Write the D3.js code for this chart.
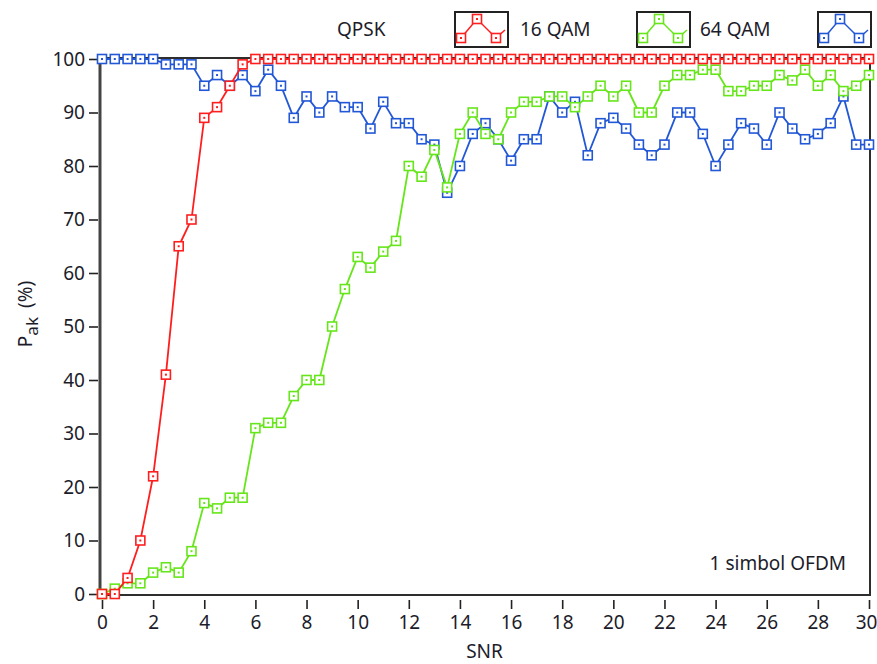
<!DOCTYPE html>
<html>
<head>
<meta charset="utf-8">
<script src="https://cdn.jsdelivr.net/npm/d3@7/dist/d3.min.js"></script>
<style>
  html, body { margin: 0; padding: 0; background: #fff; }
  svg { display: block; }
  text { font-family: "Noto Sans", "Open Sans", sans-serif; fill: #1c1c2a; }
</style>
</head>
<body>
<svg id="chart" width="877" height="664"></svg>
<script>
// SNR sweep, 0 to 30 in steps of 0.5
const snr = d3.range(0, 30.001, 0.5);

// Detection probability (%) per modulation
const qpsk = [0, 0, 3, 10, 22, 41, 65, 70, 89, 91, 95, 99,
  100, 100, 100, 100, 100, 100, 100, 100, 100, 100, 100, 100, 100, 100,
  100, 100, 100, 100, 100, 100, 100, 100, 100, 100, 100, 100, 100, 100,
  100, 100, 100, 100, 100, 100, 100, 100, 100, 100, 100, 100, 100, 100,
  100, 100, 100, 100, 100, 100, 100];

const qam16 = [0, 1, 2, 2, 4, 5, 4, 8, 17, 16, 18, 18,
  31, 32, 32, 37, 40, 40, 50, 57, 63, 61, 64, 66,
  80, 78, 83, 76, 86, 90, 86, 85, 90, 92, 92, 93,
  93, 91, 93, 95, 93, 95, 90, 90, 95, 97, 97, 98,
  98, 94, 94, 95, 95, 97, 96, 98, 95, 97, 94, 95, 97];

const qam64 = [100, 100, 100, 100, 100, 99, 99, 99, 95, 97, 95, 97,
  94, 98, 95, 89, 93, 90, 93, 91, 91, 87, 92, 88,
  88, 85, 84, 75, 80, 86, 88, 85, 81, 85, 85, 93,
  90, 92, 82, 88, 89, 87, 84, 82, 84, 90, 90, 86,
  80, 84, 88, 87, 84, 90, 87, 85, 86, 88, 93, 84, 84];

const seriesNames = ["QPSK", "16 QAM", "64 QAM"];
const seriesColors = ["#ff1e1e", "#66e61a", "#2257d6"];
const seriesValues = [qpsk, qam16, qam64];

const xTicks = d3.range(0, 31, 2);
const yTicks = d3.range(0, 101, 10);

const svg = d3.select("#chart");
const plotL = 102, plotR = 869, plotT = 59, plotB = 594;

const x = d3.scaleLinear().domain([0, 30]).range([plotL, plotR]);
const y = d3.scaleLinear().domain([0, 100]).range([plotB, plotT]);

// Plot frame
svg.append("rect")
  .attr("x", plotL - 2).attr("y", plotT - 1)
  .attr("width", plotR - plotL + 3).attr("height", plotB - plotT + 2)
  .attr("fill", "#fff").attr("stroke", "#2e2e2e").attr("stroke-width", 2);
svg.append("line")
  .attr("x1", plotL - 2).attr("x2", plotL - 2)
  .attr("y1", plotT - 2).attr("y2", plotB + 2)
  .attr("stroke", "#444").attr("stroke-width", 3);

// Axes
const yAxis = svg.append("g")
  .attr("transform", `translate(${plotL - 4},0)`)
  .call(d3.axisLeft(y).tickValues(yTicks).tickSize(9).tickPadding(4));
const xAxis = svg.append("g")
  .attr("transform", `translate(0,${plotB + 6})`)
  .call(d3.axisBottom(x).tickValues(xTicks).tickSize(9).tickPadding(7));

[yAxis, xAxis].forEach(g => {
  g.select(".domain").remove();
  g.selectAll(".tick line").attr("stroke", "#222").attr("stroke-width", 1.6);
  g.selectAll(".tick text")
    .style("font-family", "'Noto Sans', sans-serif")
    .style("font-size", "19px").attr("fill", "#1c1c2a");
});
// keep the last x label inside the window
xAxis.selectAll(".tick text").filter(d => d === 30).attr("dx", -3);

// Axis titles
svg.append("text")
  .attr("x", (plotL + plotR) / 2 - 1).attr("y", 658)
  .attr("text-anchor", "middle").style("font-size", "19px")
  .text("SNR");

const yTitle = svg.append("text")
  .attr("transform", "translate(32,314) rotate(-90)")
  .attr("text-anchor", "middle").style("font-size", "19px");
yTitle.append("tspan").text("P");
yTitle.append("tspan").attr("dy", 6).style("font-size", "17px").text("ak");
yTitle.append("tspan").attr("dy", -6).attr("dx", 9).text("(%)");

// Annotation
svg.append("text")
  .attr("x", 846).attr("y", 570)
  .attr("text-anchor", "end").style("font-size", "19px")
  .text("1 simbol OFDM");

// Series lines and markers (drawn back to front)
const line = d3.line().x(d => x(d[0])).y(d => y(d[1]));
const order = [2, 1, 0];

function drawMarkers(g, pts, color) {
  g.selectAll("rect.m").data(pts).join("rect").attr("class", "m")
    .attr("x", d => d[0] - 4.5).attr("y", d => d[1] - 4.5)
    .attr("width", 9).attr("height", 9)
    .attr("fill", "#fff").attr("stroke", color).attr("stroke-width", 1.6);
  g.selectAll("rect.dot").data(pts).join("rect").attr("class", "dot")
    .attr("x", d => d[0] - 1).attr("y", d => d[1] - 1)
    .attr("width", 2).attr("height", 2)
    .attr("fill", color);
}

order.forEach(i => {
  const pts = snr.map((s, k) => [s, seriesValues[i][k]]);
  const g = svg.append("g");
  g.append("path").datum(pts)
    .attr("d", line).attr("fill", "none")
    .attr("stroke", seriesColors[i]).attr("stroke-width", 1.8);
  drawMarkers(g, pts.map(p => [x(p[0]), y(p[1])]), seriesColors[i]);
});

// Legend: name followed by a sample box
const legendItems = [
  { name: seriesNames[0], tx: 337, bx: 455 },
  { name: seriesNames[1], tx: 520, bx: 637 },
  { name: seriesNames[2], tx: 700, bx: 818 }
];
legendItems.forEach((it, i) => {
  svg.append("text").attr("x", it.tx).attr("y", 36)
    .style("font-size", "19px").text(it.name);
  const g = svg.append("g").attr("transform", `translate(${it.bx},12)`);
  g.append("rect").attr("x", 0).attr("y", 0).attr("width", 53).attr("height", 35)
    .attr("fill", "#fff").attr("stroke", "#222").attr("stroke-width", 2);
  const sample = [[3, 30], [6, 26], [22, 7], [41, 26], [50, 18]];
  g.append("path").attr("d", d3.line()(sample))
    .attr("fill", "none").attr("stroke", seriesColors[i]).attr("stroke-width", 1.5);
  drawMarkers(g, [[6, 26], [22, 7], [41, 26]], seriesColors[i]);
});
</script>
</body>
</html>
